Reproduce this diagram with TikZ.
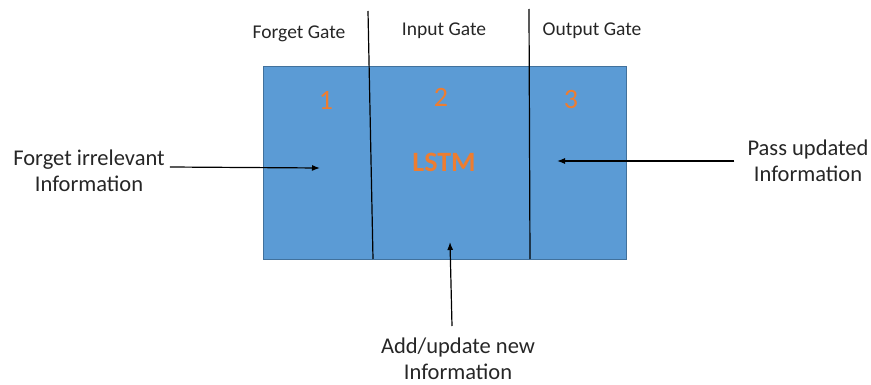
\documentclass[tikz,border=0pt]{standalone}
\usepackage{fontspec}
\setmainfont{Carlito}
\usetikzlibrary{calc,arrows.meta}

\definecolor{cellblue}{RGB}{91,155,213}
\definecolor{celledge}{RGB}{65,113,156}
\definecolor{gateorange}{RGB}{237,125,49}

\tikzset{
  gatename/.style={text=black!85,font=\fontsize{19.5}{23}\selectfont,inner sep=2pt},
  caption/.style={text=black!85,font=\fontsize{22.5}{26}\selectfont,align=center,inner sep=2pt},
  gatenum/.style={text=gateorange,font=\fontsize{28}{30}\selectfont},
  flow/.style={line width=1.2pt,-{Latex[length=8pt,width=6pt]}}
}

\begin{document}
\begin{tikzpicture}[x=1pt,y=1pt]
\useasboundingbox (0,0) rectangle (871,384);

% the cell and its three gates
\draw[celledge,line width=1pt,fill=cellblue] (263,125) rectangle (626,318);
\draw[line width=1.2pt] (368,373) -- (373,125);
\draw[line width=1.2pt] (529,375) -- (530,125);

\node[gatename] (forgetgate) at (299,350) {Forget Gate};
\node[gatename] (inputgate) at (444,353) {Input Gate};
\node[gatename] (outputgate) at (592,353) {Output Gate};

\node[gatenum] (n1) at (326,284) {1};
\node[gatenum] (n2) at (441,287) {2};
\node[gatenum] (n3) at (571,284) {3};
\node[text=gateorange,font=\fontsize{28}{30}\selectfont\bfseries] (lstm) at (444,222) {LSTM};

% what goes in and out
\node[caption] (forgettxt) at (89,213) {Forget irrelevant\\Information};
\coordinate (forgetend) at (320,216);
\draw[flow] ([shift={(3pt,4pt)}]forgettxt.east) -- (forgetend);

\node[caption] (passtxt) at (808,223) {Pass updated\\Information};
\coordinate (passend) at (557,223);
\draw[flow] ([xshift=-11pt]passtxt.west) -- (passend);

\node[caption,anchor=north] (addtxt) at (458,48) {Add/update new\\Information};
\coordinate (addend) at (450,142);
\draw[flow] ([shift={(-6pt,10pt)}]addtxt.north) -- (addend);
\end{tikzpicture}
\end{document}
